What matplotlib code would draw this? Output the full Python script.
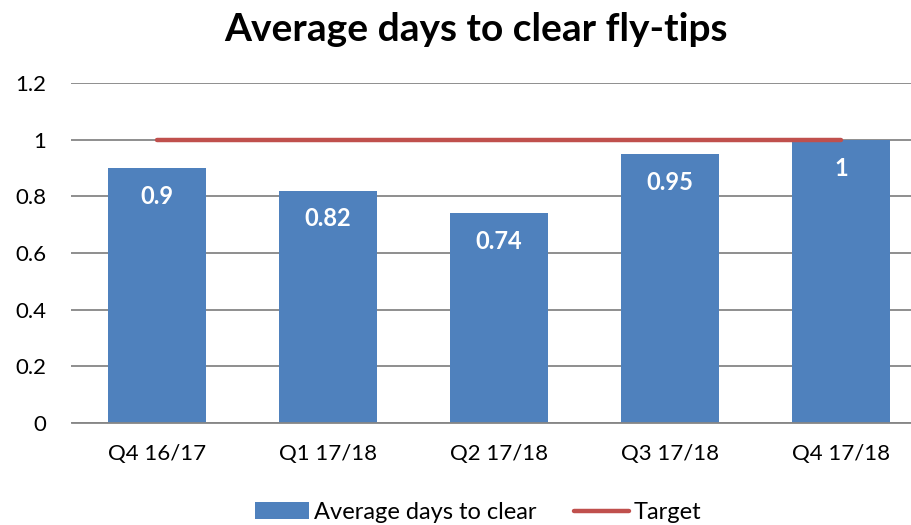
import matplotlib.pyplot as plt
from matplotlib.lines import Line2D
from matplotlib.patches import Patch

quarters = ["Q4 16/17", "Q1 17/18", "Q2 17/18", "Q3 17/18", "Q4 17/18"]
avg_days = [0.9, 0.82, 0.74, 0.95, 1]
target = [1, 1, 1, 1, 1]
value_labels = ["0.9", "0.82", "0.74", "0.95", "1"]

BAR_BLUE = "#4F81BD"
TARGET_RED = "#C0504D"
GRID_GRAY = "#868686"

plt.rcParams["font.family"] = ["Lato", "DejaVu Sans"]

fig = plt.figure(figsize=(9.12, 5.25), dpi=100)
ax = fig.add_axes([71.5 / 912, 102 / 525, 855 / 912, 340 / 525])

positions = range(len(quarters))
ax.bar(positions, avg_days, width=0.573, color=BAR_BLUE, zorder=2)
ax.plot(positions, target, color=TARGET_RED, linewidth=3.2,
        solid_capstyle="round", zorder=3)

# value labels inside the top of each bar
for pos, value, text in zip(positions, avg_days, value_labels):
    ax.text(pos, value - 0.1, text, ha="center", va="center",
            color="white", fontsize=17, fontweight="bold", zorder=4)

ax.set_xlim(-0.5, len(quarters) - 0.5)
ax.set_ylim(0, 1.2)
ax.set_yticks([0, 0.2, 0.4, 0.6, 0.8, 1.0, 1.2])
ax.set_yticklabels(["0", "0.2", "0.4", "0.6", "0.8", "1", "1.2"])
ax.set_xticks(list(positions))
ax.set_xticklabels(quarters)
ax.tick_params(axis="both", length=0, labelsize=16, colors="black")
ax.tick_params(axis="y", pad=18)
ax.tick_params(axis="x", pad=15)
ax.yaxis.grid(True, color=GRID_GRAY, linewidth=1.3, zorder=0)
ax.set_axisbelow(True)
for side in ("top", "right", "left"):
    ax.spines[side].set_visible(False)
ax.spines["bottom"].set_color(GRID_GRAY)
ax.spines["bottom"].set_linewidth(1.3)

fig.text(0.522, 0.944, "Average days to clear fly-tips", ha="center", va="center",
         fontsize=28, fontweight="bold")

handles = [Patch(facecolor=BAR_BLUE, label="Average days to clear"),
           Line2D([0], [0], color=TARGET_RED, linewidth=3.2,
                  solid_capstyle="round", label="Target")]
fig.legend(handles=handles, loc="center", bbox_to_anchor=(0.524, 0.024), ncol=2,
           frameon=False, fontsize=17, handlelength=2.3, handletextpad=0.2,
           columnspacing=1.6)

fig.savefig("out.png", dpi=100)
